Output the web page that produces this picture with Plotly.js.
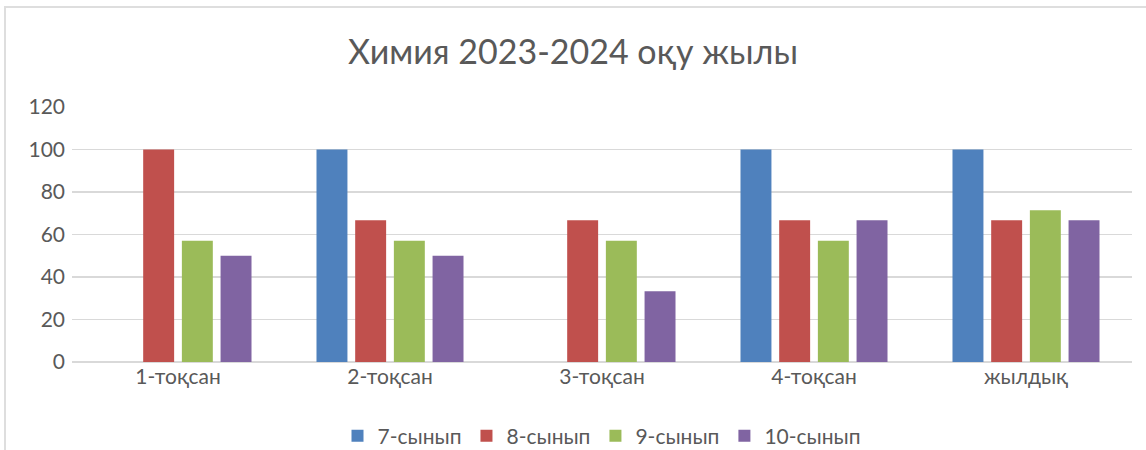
<!DOCTYPE html>
<html><head><meta charset="utf-8">
<script src="https://cdn.plot.ly/plotly-3.0.1.min.js"></script>
<style>
body{margin:0;padding:0;background:#fff;}
#frame{position:absolute;left:4px;top:6px;width:1170px;height:470px;border:2px solid #dedede;box-sizing:border-box;}
#chart{position:absolute;left:0;top:0;width:1146px;height:450px;}
</style></head>
<body><div id="frame"></div><div id="chart"></div>
<script>
const categories = ["1-тоқсан","2-тоқсан","3-тоқсан","4-тоқсан","жылдық"];
const grade7 = [0, 100, 0, 100, 100];
const grade8 = [100, 66.7, 66.7, 66.7, 66.7];
const grade9 = [57.1, 57.1, 57.1, 57.1, 71.4];
const grade10 = [50, 50, 33.3, 66.7, 66.7];
const seriesNames = ["7-сынып","8-сынып","9-сынып","10-сынып"];
const colors = ["#4f81bd","#c0504d","#9bbb59","#8064a2"];
const tickVals = [0,20,40,60,80,100,120];

const vals = [grade7, grade8, grade9, grade10];
const data = vals.map((v,i)=>({type:'bar', x:categories, y:v, name:seriesNames[i], marker:{color:colors[i]}, hoverinfo:'y'}));

const layout = {
  width:1146, height:450,
  paper_bgcolor:'rgba(0,0,0,0)', plot_bgcolor:'rgba(0,0,0,0)',
  font:{family:'Lato, Carlito, sans-serif', color:'#595959', size:21},
  title:{text:'Химия 2023-2024 оқу жылы', font:{size:34, color:'#595959'}, x:0.5, xanchor:'center', y:0.885, yanchor:'middle'},
  margin:{l:72, r:14, t:107, b:88, autoexpand:false},
  bargap:0.27, bargroupgap:0.2,
  xaxis:{showline:false, ticks:'', tickfont:{size:21}, showgrid:false, automargin:false},
  yaxis:{range:[0,120], tickvals:tickVals, showgrid:true, gridcolor:'#d9d9d9', gridwidth:1.5, zeroline:true, zerolinecolor:'#d9d9d9', zerolinewidth:1.5, ticks:'', tickfont:{size:21}, ticklabelstandoff:6, fixedrange:true, automargin:false},
  legend:{orientation:'h', x:0.5, xanchor:'center', yref:'container', y:0.031, yanchor:'middle', font:{size:21}, itemwidth:30, traceorder:'normal'},
  showlegend:true
};
Plotly.newPlot('chart', data, layout, {displayModeBar:false, staticPlot:true});
</script></body></html>
